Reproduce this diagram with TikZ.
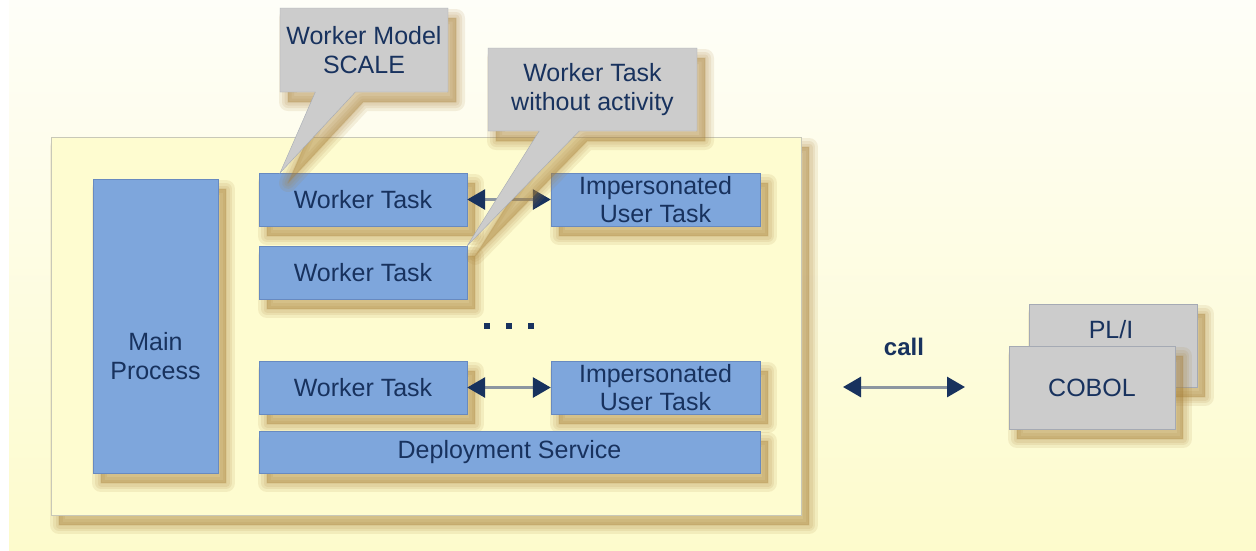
\documentclass[tikz,border=0pt]{standalone}
\usepackage{fontspec}
\setmainfont{Liberation Sans}
\usetikzlibrary{shapes.callouts,shadows,arrows.meta}
\definecolor{navy}{RGB}{24,50,94}
\definecolor{taskblue}{RGB}{126,166,220}
\definecolor{taskedge}{RGB}{104,138,192}
\definecolor{notegray}{RGB}{204,204,204}
\definecolor{noteedge}{RGB}{165,170,180}
\definecolor{paper}{RGB}{254,252,208}
\definecolor{paperedge}{RGB}{200,200,184}
\definecolor{shaftgray}{RGB}{140,150,160}
\definecolor{shadowtan}{RGB}{170,130,60}

\begin{document}
\begin{tikzpicture}[x=1pt,y=-1pt,
	>={Triangle[length=18pt,width=20pt,color=navy,fill=navy]},
	every node/.style={font=\fontsize{25}{28.5}\selectfont,text=navy,align=center,inner sep=0pt},
	shadowlayer/.style={general shadow={fill=shadowtan,draw=shadowtan,line join=round,opacity=0.12,shadow xshift=8pt,shadow yshift=-10pt,line width=#1}},
	soft/.style={shadowlayer=18pt,shadowlayer=12pt,shadowlayer=7pt,shadowlayer=2pt},
	task/.style={draw=taskedge,fill=taskblue,soft},
	note/.style={rectangle callout,draw=noteedge,fill=notegray,callout pointer width=40pt,soft},
	link/.style={<->,draw=shaftgray,line width=3pt}]

\useasboundingbox (0,0) rectangle (1256,550);
\shade [top color={rgb,255:red,254;green,254;blue,248},bottom color={rgb,255:red,253;green,251;blue,204}] (9,0) rectangle (1256,550);

%%%%%%%%%%%%%%%%%%%%%%%%%%%%%%%%%%%%%%

\node (host) [draw=paperedge,fill=paper,minimum width=750pt,minimum height=378pt,soft] at (426,326) {};

\node (main) [task,minimum width=125pt,minimum height=294pt] at (155.5,326) {};
\node (maintext) at (155.5,356) {Main\\Process};

\node (wt1) [task,minimum width=208pt,minimum height=53pt] at (363,199.5) {Worker Task};
\node (wt2) [task,minimum width=208pt,minimum height=53pt] at (363,272.5) {Worker Task};
\node (wt3) [task,minimum width=208pt,minimum height=53pt] at (363,387.5) {Worker Task};

\node (imp1) [task,minimum width=209pt,minimum height=53pt] at (655.5,199.5) {Impersonated\\User Task};
\node (imp3) [task,minimum width=209pt,minimum height=53pt] at (655.5,387.5) {Impersonated\\User Task};

\node (deploy) [task,minimum width=501pt,minimum height=42pt] at (509.5,452) {Deployment Service};

\foreach \x in {487,509,531}
	\fill [navy] (\x-3,323) rectangle +(6,6);

\draw [link] (wt1) -- (imp1);
\draw [link] (wt3) -- (imp3);

%%%%%%%%%%%%%%%%%%%%%%%%%%%%%%%%%%%%%%

\coordinate (scaletip) at (280,173);

\node (model) [note,minimum width=168pt,minimum height=84pt,callout absolute pointer={(scaletip)}] at (364,50) {Worker Model\\SCALE};
\node (idle) [note,minimum width=209pt,minimum height=83pt,callout absolute pointer={(wt2.north east)}] at (592.5,89.5) {Worker Task\\without activity};

%%%%%%%%%%%%%%%%%%%%%%%%%%%%%%%%%%%%%%

\node (pli) [draw=noteedge,fill=notegray,minimum width=168pt,minimum height=83pt,soft] at (1113,345.5) {};
\node (plitext) at (1111,330) {PL/I};
\node (cobol) [draw=noteedge,fill=notegray,minimum width=166pt,minimum height=83pt,soft] at (1092,387.5) {COBOL};

\coordinate (callL) at (843,387);
\coordinate (callR) at (965,387);
\draw [link] (callL) -- node[above=30pt,font=\fontsize{24}{28}\bfseries] (calltext) {call} (callR);

\end{tikzpicture}
\end{document}
